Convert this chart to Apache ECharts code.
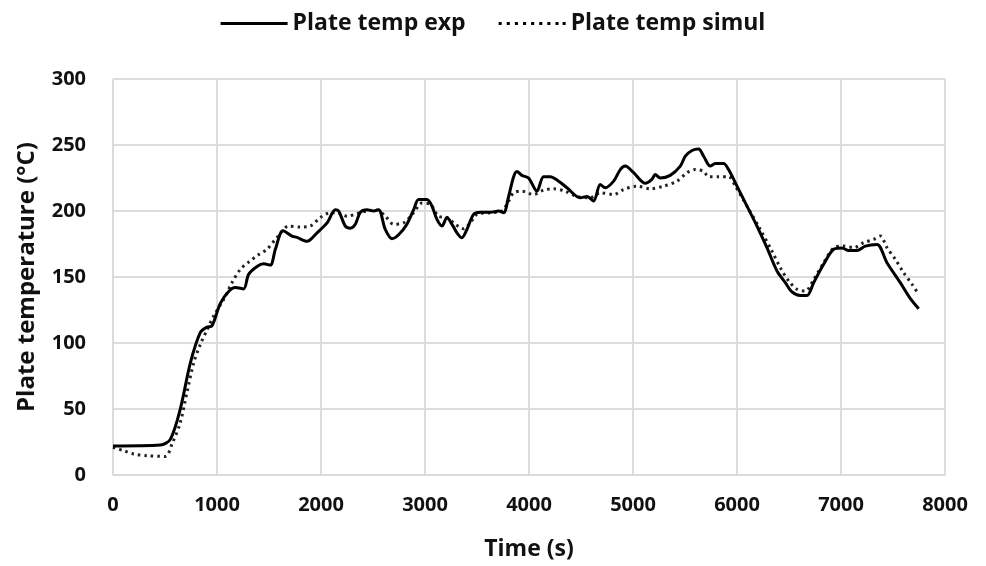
<!DOCTYPE html>
<html><head><meta charset="utf-8">
<script src="https://cdn.jsdelivr.net/npm/echarts@6/dist/echarts.min.js"></script>
<style>html,body{margin:0;padding:0;background:#fff}#c{width:986px;height:566px}</style>
</head><body><div id="c"></div>
<script>
const expTime = [0,455,551,647,744,840,904,952,1032,1112,1176,1256,1304,1385,1449,1513,1561,1635,1721,1769,1865,1962,2058,2138,2170,2234,2282,2330,2378,2442,2506,2554,2618,2682,2746,2826,2891,2939,3019,3067,3115,3163,3211,3259,3307,3355,3403,3467,3531,3627,3708,3756,3804,3852,3884,3932,3996,4076,4140,4204,4285,4365,4493,4557,4621,4685,4733,4814,4878,4926,5006,5118,5182,5214,5262,5358,5455,5503,5567,5631,5679,5743,5791,5871,5919,6000,6096,6192,6288,6385,6465,6529,6609,6673,6737,6833,6929,7010,7073,7154,7234,7346,7442,7570,7667,7747];
const expTemp = [22,22.7,27,50,85,108,112,113,130,139,142,141,152,158,160,159,171,185,181,180,177,183.5,191,201,200,188.6,187,190,199,201,200,201,186,179,182,190,201,208.7,208.7,203.7,193.6,188.6,195,190,183.5,179.7,186,197.4,199,199,200,198.7,211,226,230,227,225,215,226,226,222.6,217.6,210,211,207.5,220,217.6,222.6,231.4,234,229,221,224,227.6,225,227,234,241.5,245.8,247,241.5,234,236,236,231.4,218.8,203.7,188.6,172.2,154.5,145.7,138.7,136,136,145.7,159.6,171,172,170,170,173.4,174.7,160.8,145.7,133.6,126];
const simTime = [0,103,199,327,503,567,647,711,776,840,904,968,1064,1144,1224,1304,1401,1481,1577,1689,1801,1897,1994,2090,2154,2250,2346,2442,2538,2619,2698,2794,2891,2971,3051,3131,3211,3291,3371,3435,3499,3627,3740,3804,3852,3932,4044,4140,4236,4349,4461,4589,4685,4814,4910,5038,5166,5294,5423,5519,5599,5679,5727,5823,5919,5984,6096,6224,6336,6417,6497,6577,6657,6737,6833,6929,7026,7122,7218,7314,7378,7442,7522,7602,7683,7745];
const simTemp = [21,18.4,15.9,14.6,14.1,23.4,39.8,62.5,85,99,110,120.5,133,145.7,155.8,161.3,167,171,180,188.6,187.8,188.6,195,198.7,198.7,196,198,200,200.7,196,190,191,198.7,206,205,196,195,190,186.5,191,197.4,198.7,200,207.5,213.8,215,212.5,215.8,216.8,215,211,210,213.8,212.5,216.3,218.8,216.8,218.8,222.6,229,231.4,230,226,226,226,218.8,203.7,186,169.7,157,147,140.7,139.4,148,160.8,172,173.4,172.2,176,178.5,181,172.2,163.4,153.3,144.5,137];
const seriesNames = ['Plate temp exp','Plate temp simul'];
const xTitle = 'Time (s)';
const yTitle = 'Plate temperature (°C)';

const zip = (a,b)=>a.map((t,i)=>[t,b[i]]);
const font = "'Open Sans', 'DejaVu Sans', sans-serif";
const chart = echarts.init(document.getElementById('c'), null, {renderer:'canvas'});
chart.setOption({
  animation:false,
  backgroundColor:'#fff',
  legend:{
    top:7, left:'center', itemGap:33, itemWidth:67, itemHeight:10,
    textStyle:{fontFamily:font, fontSize:23, fontWeight:'bold', color:'#111'},
    data:[
      {name:seriesNames[0], icon:'path://M0,3.5 L67,3.5 L67,6.5 L0,6.5 Z', itemStyle:{color:'#000'}},
      {name:seriesNames[1], icon:'path://M1,3.5h3v3h-3zM9,3.5h3v3h-3zM17,3.5h3v3h-3zM25,3.5h3v3h-3zM33,3.5h3v3h-3zM41,3.5h3v3h-3zM49,3.5h3v3h-3zM57,3.5h3v3h-3zM64,3.5h3v3h-3z', itemStyle:{color:'#000'}}
    ]
  },
  grid:{left:113, right:41, top:79, bottom:90, show:true, borderColor:'#d9d9d9', borderWidth:1},
  xAxis:{
    type:'value', min:0, max:8000, interval:1000,
    name:xTitle, nameLocation:'middle', nameGap:63,
    nameTextStyle:{fontFamily:font, fontSize:23, fontWeight:'bold', color:'#111'},
    axisLine:{show:true, lineStyle:{color:'#d9d9d9', width:1}},
    axisTick:{show:false},
    axisLabel:{fontFamily:font, fontSize:20, fontWeight:'bold', color:'#111', margin:20, formatter:v=>String(v)},
    splitLine:{show:true, lineStyle:{color:'#dcdcdc', width:2}}
  },
  yAxis:{
    type:'value', min:0, max:300, interval:50,
    name:yTitle, nameLocation:'middle', nameGap:74, nameRotate:90,
    nameTextStyle:{fontFamily:font, fontSize:24, fontWeight:'bold', color:'#111'},
    axisLine:{show:true, lineStyle:{color:'#d9d9d9', width:1}},
    axisTick:{show:false},
    axisLabel:{fontFamily:font, fontSize:20, fontWeight:'bold', color:'#111', margin:27},
    splitLine:{show:true, lineStyle:{color:'#dcdcdc', width:2}}
  },
  series:[
    {name:seriesNames[0], type:'line', data:zip(expTime,expTemp), showSymbol:false, smooth:0.3,
     lineStyle:{color:'#000', width:3}, itemStyle:{color:'#000'}, z:3},
    {name:seriesNames[1], type:'line', data:zip(simTime,simTemp), showSymbol:false, smooth:0.3,
     lineStyle:{color:'#222', width:3, type:[2.5,4]}, itemStyle:{color:'#000'}, z:2}
  ]
});
</script></body></html>
